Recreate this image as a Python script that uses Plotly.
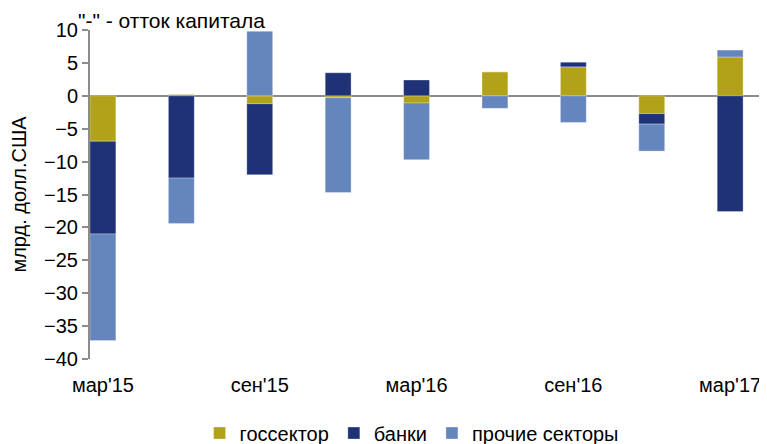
import plotly.graph_objects as go

categories = ["мар'15", "июн'15", "сен'15", "дек'15", "мар'16", "июн'16", "сен'16", "дек'16", "мар'17"]
gov = [-6.9, 0.2, -1.2, -0.3, -1.1, 3.65, 4.4, -2.7, 5.9]
banks = [-14.1, -12.5, -10.8, 3.5, 2.4, 0.0, 0.7, -1.6, -17.6]
others = [-16.2, -6.9, 9.8, -14.4, -8.6, -1.9, -4.05, -4.1, 1.05]
series_names = ["госсектор", "банки", "прочие секторы"]
colors = ["#B1A21A", "#1F3277", "#6585BD"]

FONT = "Liberation Sans, Arial, sans-serif"
bar_w = 0.33
x_range = [-bar_w / 2, len(categories) - 0.53]

fig = go.Figure()
for name, vals, col in zip(series_names, [gov, banks, others], colors):
    fig.add_trace(go.Bar(
        x=categories, y=vals, name=name, width=bar_w,
        marker=dict(color=col, line=dict(color="rgba(255,255,255,0.3)", width=1)),
    ))

# the page body has an 8px margin, so the figure is sized to fit the 767x444 window
fig.update_layout(
    barmode="relative",
    width=759, height=436,
    margin=dict(l=82, r=0, t=22, b=85, autoexpand=False),
    paper_bgcolor="white", plot_bgcolor="white",
    font=dict(family=FONT, size=20, color="#000000"),
    showlegend=True,
    legend=dict(orientation="h", x=0.475, xanchor="center", y=-0.225, yanchor="middle",
                font=dict(size=20), traceorder="normal", itemwidth=30),
    xaxis=dict(
        type="category", range=x_range, automargin=False,
        tickmode="array", tickvals=categories[::2], ticktext=categories[::2],
        ticks="outside", ticklen=8, tickcolor="rgba(0,0,0,0)",
        showline=False, showgrid=False, zeroline=False,
        tickfont=dict(size=20),
    ),
    xaxis2=dict(
        overlaying="x", anchor="free", position=40 / 50, automargin=False,
        range=x_range, tickmode="array",
        tickvals=[i - bar_w / 2 for i in range(0, len(categories), 2)],
        showticklabels=False, ticks="outside", ticklen=6, tickwidth=2,
        tickcolor="#8C8C8C", showline=False, showgrid=False, zeroline=False,
    ),
    yaxis=dict(
        range=[-40, 10], dtick=5, tick0=0, automargin=False,
        ticks="outside", ticklen=6, tickwidth=2, tickcolor="#8C8C8C",
        showline=True, linecolor="#8C8C8C", linewidth=2,
        zeroline=True, zerolinecolor="#8C8C8C", zerolinewidth=2,
        showgrid=False,
        title=dict(text="млрд. долл.США", font=dict(size=20), standoff=12),
        tickfont=dict(size=20),
    ),
    annotations=[dict(
        text='"-" - отток капитала', xref="paper", yref="paper",
        x=-0.019, xanchor="left", y=1 + 22 / 329, yanchor="top",
        showarrow=False, font=dict(size=21), borderpad=0,
    )],
)

fig.write_html("out.html")
